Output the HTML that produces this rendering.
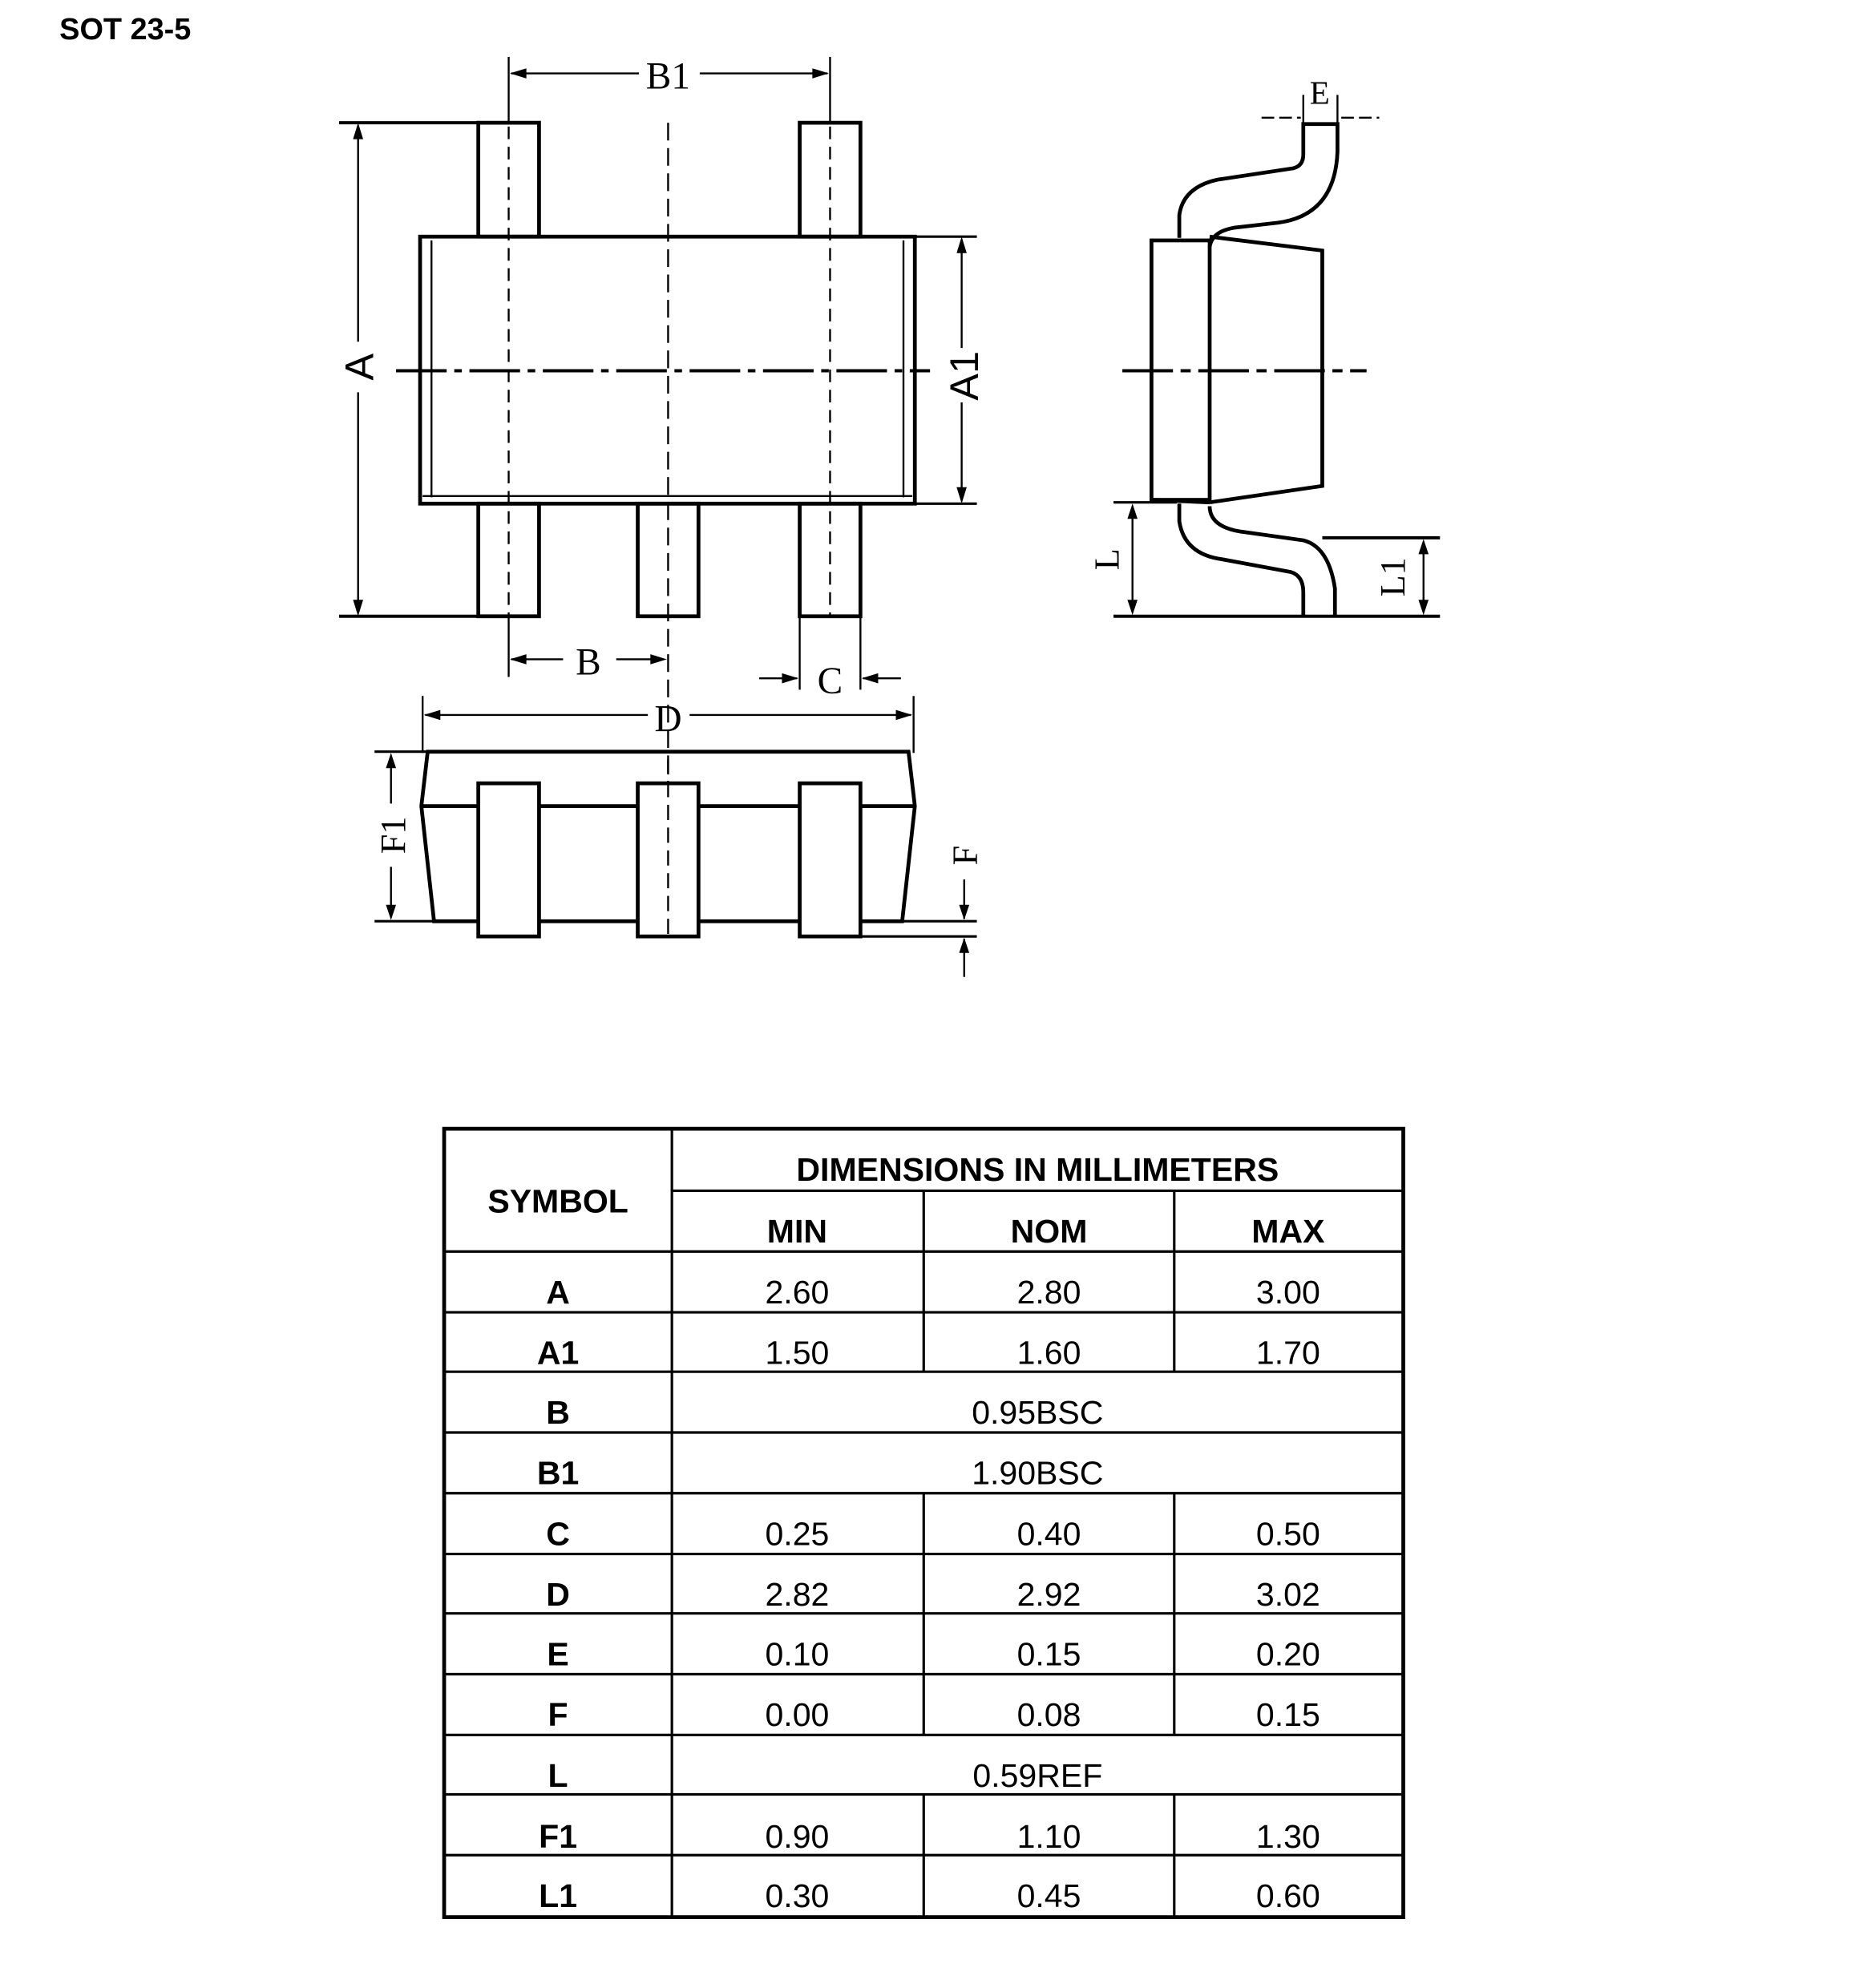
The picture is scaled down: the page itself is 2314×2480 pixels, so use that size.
<!DOCTYPE html>
<html><head><meta charset="utf-8"><style>
html,body{margin:0;padding:0;background:#fff;}
svg{display:block;}
</style></head><body>
<svg width="2314" height="2480" viewBox="0 0 1466 1571" preserveAspectRatio="none" xmlns="http://www.w3.org/2000/svg">
<rect width="1466" height="1571" fill="#fff"/>
<text x="47" y="31" font-family="Liberation Sans, sans-serif" font-weight="bold" font-size="24">SOT 23-5</text>

<g stroke="#000" fill="none" stroke-width="3">
 <rect x="332" y="187" width="391" height="211"/>
 <line x1="341" y1="190" x2="341" y2="393" stroke-width="1.5"/>
 <line x1="714" y1="190" x2="714" y2="393" stroke-width="1.5"/>
 <line x1="334" y1="392" x2="721" y2="392" stroke-width="1.5"/>
 <rect x="378" y="97" width="48" height="90"/>
 <rect x="632" y="97" width="48" height="90"/>
 <rect x="378" y="398" width="48" height="89"/>
 <rect x="504" y="398" width="48" height="89"/>
 <rect x="632" y="398" width="48" height="89"/>
</g>
<g stroke="#000" fill="none" stroke-width="1.5">
 <line x1="528" y1="97" x2="528" y2="740" stroke-dasharray="14,6"/>
 <line x1="402" y1="100" x2="402" y2="487" stroke-dasharray="10,6"/>
 <line x1="656" y1="100" x2="656" y2="487" stroke-dasharray="10,6"/>
 <line x1="313" y1="293" x2="735" y2="293" stroke-width="2.5" stroke-dasharray="40,6,6,6"/>
 <line x1="268" y1="97" x2="378" y2="97" stroke-width="2.5"/>
 <line x1="268" y1="487" x2="378" y2="487" stroke-width="2.5"/>
 <line x1="283" y1="100" x2="283" y2="270"/><line x1="283" y1="310" x2="283" y2="484"/>
 <line x1="723" y1="187" x2="772" y2="187" stroke-width="2"/>
 <line x1="723" y1="398" x2="772" y2="398" stroke-width="2"/>
 <line x1="760" y1="190" x2="760" y2="275"/><line x1="760" y1="318" x2="760" y2="395"/>
 <line x1="402" y1="45" x2="402" y2="97"/><line x1="656" y1="45" x2="656" y2="97"/>
 <line x1="404" y1="58" x2="505" y2="58"/><line x1="553" y1="58" x2="654" y2="58"/>
 <line x1="402" y1="487" x2="402" y2="535"/>
 <line x1="404" y1="521" x2="445" y2="521"/><line x1="487" y1="521" x2="520" y2="521"/>
 <line x1="632" y1="487" x2="632" y2="545"/><line x1="680" y1="487" x2="680" y2="545"/>
 <line x1="600" y1="536" x2="630" y2="536"/><line x1="682" y1="536" x2="712" y2="536"/>
 <line x1="334" y1="550" x2="334" y2="595"/><line x1="722" y1="550" x2="722" y2="595"/>
 <line x1="336" y1="565" x2="512" y2="565"/><line x1="545" y1="565" x2="720" y2="565"/>
</g>
<g fill="#000">
 <polygon points="283,97 279,110 287,110"/><polygon points="283,487 279,474 287,474"/>
 <polygon points="760,187 756,200 764,200"/><polygon points="760,398 756,385 764,385"/>
 <polygon points="403,58 416,54 416,62"/><polygon points="655,58 642,54 642,62"/>
 <polygon points="403,521 416,517 416,525"/><polygon points="527,521 514,517 514,525"/>
 <polygon points="631,536 618,532 618,540"/><polygon points="681,536 694,532 694,540"/>
 <polygon points="335,565 348,561 348,569"/><polygon points="721,565 708,561 708,569"/>
</g>
<g font-family="Liberation Serif, serif" font-size="30" text-anchor="middle">
 <text x="528" y="70">B1</text>
 <text x="465" y="533">B</text>
 <text x="656" y="548">C</text>
 <text x="528" y="578">D</text>
 <text x="1043" y="82" font-size="26">E</text>
</g>
<g font-family="Liberation Sans, sans-serif" font-size="32" text-anchor="middle">
 <text transform="translate(295,290) rotate(-90)">A</text>
 <text transform="translate(773,297) rotate(-90)">A1</text>
</g>
<g font-family="Liberation Serif, serif" font-size="28" text-anchor="middle">
 <text transform="translate(320,660) rotate(-90)">F1</text>
 <text transform="translate(772,676) rotate(-90)">F</text>
 <text transform="translate(884,442) rotate(-90)">L</text>
 <text transform="translate(1110,456) rotate(-90)">L1</text>
</g>

<g stroke="#000" fill="none" stroke-width="3">
 <path d="M338,594 L718,594 L723,637 L713,728 L343,728 L333,637 Z"/>
 <line x1="333" y1="637" x2="723" y2="637"/>
 <rect x="378" y="619" width="48" height="121" fill="#fff"/>
 <rect x="504" y="619" width="48" height="121" fill="#fff"/>
 <rect x="632" y="619" width="48" height="121" fill="#fff"/>
</g>
<g stroke="#000" fill="none" stroke-width="1.5">
 <line x1="528" y1="600" x2="528" y2="740" stroke-dasharray="12,6"/>
 <line x1="296" y1="594" x2="338" y2="594" stroke-width="2"/>
 <line x1="296" y1="728" x2="343" y2="728" stroke-width="2"/>
 <line x1="309" y1="597" x2="309" y2="635"/><line x1="309" y1="685" x2="309" y2="725"/>
 <line x1="680" y1="728" x2="772" y2="728" stroke-width="2"/>
 <line x1="680" y1="740" x2="772" y2="740" stroke-width="2"/>
 <line x1="762" y1="695" x2="762" y2="726"/><line x1="762" y1="742" x2="762" y2="772"/>
</g>
<g fill="#000">
 <polygon points="309,595 305,607 313,607"/><polygon points="309,727 305,715 313,715"/>
 <polygon points="762,727 758,715 766,715"/><polygon points="762,741 758,753 766,753"/>
</g>

<g stroke="#000" fill="none" stroke-width="3">
 <rect x="910" y="190" width="46" height="205"/>
 <path d="M956,187 L1045,198 L1045,384 L956,397"/>
 <path d="M910,395 L956,397"/>
 <path d="M932,188 L932,170 Q935,148 962,142 L1022,133 Q1030,131 1030,122 L1030,98 L1057,98 L1057,120 Q1055,170 1010,176 L975,180 Q958,183 956,195"/>
 <path d="M932,398 L932,412 Q936,438 966,442 L1020,452 Q1030,455 1030,468 L1030,487 M1055,487 L1055,465 Q1050,432 1030,427 L980,420 Q956,416 956,400"/>
</g>
<g stroke="#000" fill="none" stroke-width="1.5">
 <line x1="887" y1="293" x2="1080" y2="293" stroke-width="2.5" stroke-dasharray="40,6,8,6"/>
 <line x1="880" y1="397" x2="930" y2="397" stroke-width="2"/>
 <line x1="880" y1="487" x2="1138" y2="487" stroke-width="2.5"/>
 <line x1="1045" y1="425" x2="1138" y2="425" stroke-width="2.5"/>
 <line x1="895" y1="400" x2="895" y2="484"/>
 <line x1="1125" y1="428" x2="1125" y2="484"/>
 <line x1="997" y1="93" x2="1028" y2="93" stroke-dasharray="10,4"/>
 <line x1="1060" y1="93" x2="1090" y2="93" stroke-dasharray="10,4"/>
 <line x1="1030" y1="75" x2="1030" y2="100"/><line x1="1057" y1="75" x2="1057" y2="100"/>
</g>
<g fill="#000">
 <polygon points="895,398 891,410 899,410"/><polygon points="895,486 891,474 899,474"/>
 <polygon points="1125,426 1121,438 1129,438"/><polygon points="1125,486 1121,474 1129,474"/>
</g>

<g stroke="#000" fill="none">
 <rect x="351" y="892" width="758" height="623" stroke-width="3"/>
 <line x1="531" y1="892" x2="531" y2="1515" stroke-width="2"/>
 <line x1="531" y1="941" x2="1109" y2="941" stroke-width="2"/>
 <line x1="351" y1="989" x2="1109" y2="989" stroke-width="2"/>
 <line x1="351" y1="1037" x2="1109" y2="1037" stroke-width="2"/>
 <line x1="351" y1="1084" x2="1109" y2="1084" stroke-width="2"/>
 <line x1="351" y1="1132" x2="1109" y2="1132" stroke-width="2"/>
 <line x1="351" y1="1180" x2="1109" y2="1180" stroke-width="2"/>
 <line x1="351" y1="1228" x2="1109" y2="1228" stroke-width="2"/>
 <line x1="351" y1="1275" x2="1109" y2="1275" stroke-width="2"/>
 <line x1="351" y1="1323" x2="1109" y2="1323" stroke-width="2"/>
 <line x1="351" y1="1371" x2="1109" y2="1371" stroke-width="2"/>
 <line x1="351" y1="1418" x2="1109" y2="1418" stroke-width="2"/>
 <line x1="351" y1="1466" x2="1109" y2="1466" stroke-width="2"/>
 <path d="M730,941 V1084 M928,941 V1084 M730,1180 V1371 M928,1180 V1371 M730,1418 V1515 M928,1418 V1515" stroke-width="2"/>
</g>
<g font-family="Liberation Sans, sans-serif" font-size="26" text-anchor="middle">
 <g font-weight="bold">
  <text x="441" y="958">SYMBOL</text>
  <text x="820" y="933">DIMENSIONS IN MILLIMETERS</text>
  <text x="630" y="982">MIN</text><text x="829" y="982">NOM</text><text x="1018" y="982">MAX</text>
  <text x="441" y="1030">A</text><text x="441" y="1078">A1</text><text x="441" y="1125">B</text>
  <text x="441" y="1173">B1</text><text x="441" y="1221">C</text><text x="441" y="1269">D</text>
  <text x="441" y="1316">E</text><text x="441" y="1364">F</text><text x="441" y="1412">L</text>
  <text x="441" y="1460">F1</text><text x="441" y="1507">L1</text>
 </g>
 <text x="630" y="1030">2.60</text><text x="829" y="1030">2.80</text><text x="1018" y="1030">3.00</text>
 <text x="630" y="1078">1.50</text><text x="829" y="1078">1.60</text><text x="1018" y="1078">1.70</text>
 <text x="820" y="1125">0.95BSC</text>
 <text x="820" y="1173">1.90BSC</text>
 <text x="630" y="1221">0.25</text><text x="829" y="1221">0.40</text><text x="1018" y="1221">0.50</text>
 <text x="630" y="1269">2.82</text><text x="829" y="1269">2.92</text><text x="1018" y="1269">3.02</text>
 <text x="630" y="1316">0.10</text><text x="829" y="1316">0.15</text><text x="1018" y="1316">0.20</text>
 <text x="630" y="1364">0.00</text><text x="829" y="1364">0.08</text><text x="1018" y="1364">0.15</text>
 <text x="820" y="1412">0.59REF</text>
 <text x="630" y="1460">0.90</text><text x="829" y="1460">1.10</text><text x="1018" y="1460">1.30</text>
 <text x="630" y="1507">0.30</text><text x="829" y="1507">0.45</text><text x="1018" y="1507">0.60</text>
</g>
</svg>
</body></html>
